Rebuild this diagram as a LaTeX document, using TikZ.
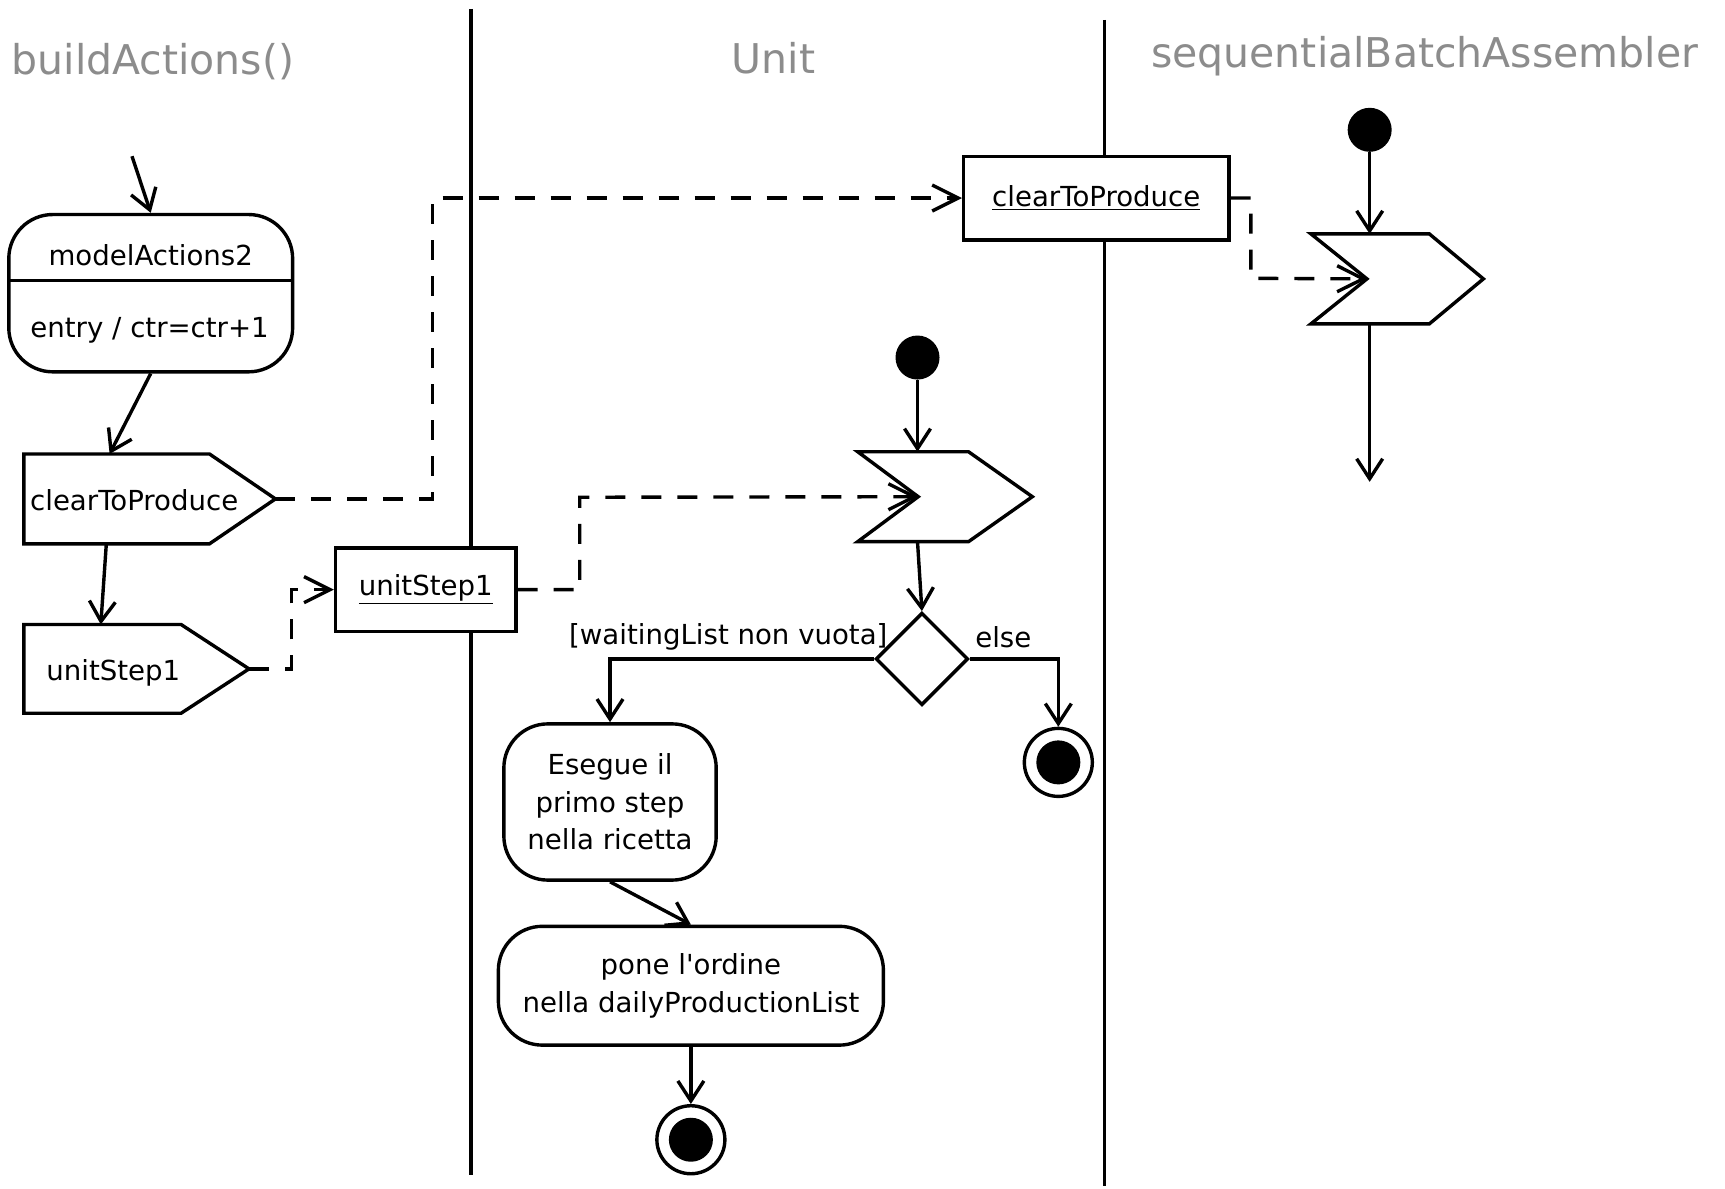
\documentclass[tikz,border=0pt]{standalone}
\usepackage{fontspec}
\setmainfont{DejaVu Sans}[Ligatures=TeXOff]
\usetikzlibrary{arrows.meta,shapes.geometric,calc}

\definecolor{titlegray}{HTML}{8C8C8C}

% outline of a send-signal action (pentagon pointing right)
\newcommand\sendoutline[2]{%
  \draw[ln] (#1.north west) -- ([xshift=-#2]#1.north east) -- (#1.east)
    -- ([xshift=-#2]#1.south east) -- (#1.south west) -- cycle;}
% outline of an accept-event action (notched left side, pointed right side)
\newcommand\acceptoutline[3]{%
  \draw[ln, fill=white] (#1.north west) -- ([xshift=-#3]#1.north east) -- (#1.east)
    -- ([xshift=-#3]#1.south east) -- (#1.south west) -- ([xshift=#2]#1.west) -- cycle;}

\tikzset{
  ln/.style={line width=1.7pt, line join=miter},
  arr/.style={ln, -{Straight Barb[length=10pt,width=13pt,line width=1.7pt]}},
  dasharr/.style={ln, dash pattern=on 10pt off 8pt,
    -{Straight Barb[length=13pt,width=13pt,line width=1.7pt]}},
  lane/.style={line width=1.7pt},
  title/.style={font=\fontsize{20.5}{24}\selectfont, text=titlegray, inner sep=0pt},
  txt/.style={font=\fontsize{13.8}{18.7}\selectfont, inner sep=0pt, align=center},
  shp/.style={inner sep=0pt},
  objbox/.style={draw, ln, fill=white, inner sep=0pt, minimum height=41.8pt,
    font=\fontsize{13.8}{18.7}\selectfont},
  actbox/.style={draw, ln, fill=white, rounded corners=22pt, inner sep=0pt,
    align=center, font=\fontsize{13.8}{18.7}\selectfont},
  startdot/.style={circle, fill=black, minimum size=22pt, inner sep=0pt},
  finalnode/.style={circle, draw, ln, fill=white, minimum size=34pt, inner sep=0pt,
    path picture={\fill[black] (path picture bounding box.center) circle (11pt);}},
  decision/.style={diamond, draw, ln, fill=white, minimum width=46.2pt,
    minimum height=46.2pt, inner sep=0pt, aspect=1},
}

\begin{document}
\begin{tikzpicture}[x=0.55pt, y=-0.55pt]
  \fill[white] (0,0) rectangle (1568,1080);
  \useasboundingbox (0,0) rectangle (1568,1080);

  % swimlane separators
  \coordinate (l1a) at (428,8);    \coordinate (l1b) at (428,1068);
  \coordinate (l2a) at (1004,18);  \coordinate (l2b) at (1004,1078);
  \draw[lane] (l1a) -- (l1b);
  \draw[lane] (l2a) -- (l2b);

  % lane titles
  \node[title] (t1) at (139,56) {buildActions()};
  \node[title] (t2) at (703,53) {Unit};
  \node[title] (t3) at (1295,51) {sequentialBatchAssembler};

  % ---- buildActions() lane ----
  \node[actbox, minimum width=141.9pt, minimum height=78.65pt] (ma) at (137,266.5) {};
  \draw[ln] (ma.west |- 0,255) -- (ma.east |- 0,255);
  \node[txt] (maT) at (137,232) {modelActions2};
  \node[txt] (maE) at (136,300) {entry / ctr=ctr+1};

  \node[shp, minimum width=125.4pt, minimum height=44.55pt] (ctp) at (136,453.5) {};
  \sendoutline{ctp}{33pt}
  \node[txt] (ctpT) at (122,455) {clearToProduce};

  \node[shp, minimum width=112.2pt, minimum height=44pt] (us) at (124,608) {};
  \sendoutline{us}{34pt}
  \node[txt] (usT) at (103,612) {unitStep1};

  % ---- object nodes ----
  \node[objbox, minimum width=90.2pt] (obj1) at (387,536) {\underline{unitStep1}};
  \node[objbox, minimum width=132.55pt] (obj2) at (996.5,180) {\underline{clearToProduce}};

  % ---- Unit lane ----
  \node[startdot] (dot1) at (834,325) {};
  \node[shp, minimum width=86.9pt, minimum height=44.55pt] (acc1) at (859,451.5) {};
  \acceptoutline{acc1}{30.25pt}{31.9pt}
  \coordinate (acc1n) at ([xshift=30.25pt]acc1.west);
  \node[decision] (dec) at (838,599) {};
  \node[txt] (gYes) at (662,579) {[waitingList non vuota]};
  \node[txt] (gNo) at (912,579) {else};
  \node[finalnode] (fin1) at (962,693) {};
  \node[actbox, minimum width=106.15pt, minimum height=78.1pt] (es) at (554.5,729)
    {Esegue il\\primo step\\nella ricetta};
  \node[actbox, minimum width=192.5pt, minimum height=59.4pt] (pone) at (628,896)
    {pone l'ordine\\nella dailyProductionList};
  \node[finalnode] (fin2) at (628,1036) {};

  % ---- sequentialBatchAssembler lane ----
  \node[startdot] (dot2) at (1245,118) {};
  \node[shp, minimum width=85.8pt, minimum height=44.55pt] (acc2) at (1270,253.5) {};
  \acceptoutline{acc2}{28pt}{27pt}
  \coordinate (acc2n) at ([xshift=28pt]acc2.west);
  \coordinate (endB) at (1245,438);

  % ---- control flows ----
  \coordinate (st0) at (120,142);
  \draw[arr] (st0) -- (ma.north);
  \draw[arr] (ma.south) -- ([xshift=42.9pt]ctp.north west);
  \draw[arr] ([xshift=41.25pt]ctp.south west) -- ([xshift=38.5pt]us.north west);
  \draw[arr] (dot1) -- (dot1 |- acc1.north);
  \draw[arr] (dot1 |- acc1.south) -- (dec.north);
  \draw[arr] (dec.west) -| (es.north);
  \draw[arr] (dec.east) -| (fin1.north);
  \draw[arr] (es.south) -- (pone.north);
  \draw[arr] (pone.south) -- (fin2.north);
  \draw[arr] (dot2) -- (dot2 |- acc2.north);
  \draw[arr] (dot2 |- acc2.south) -- (endB);

  % ---- object flows ----
  \coordinate (b1) at (393,180);
  \coordinate (b2) at (265,536);
  \coordinate (b3) at (527,452);
  \coordinate (b4) at (1137,253);
  \draw[dasharr] (ctp.east) -| (b1) -- (obj2.west);
  \draw[dasharr] (us.east) -| (b2) -- (obj1.west);
  \draw[dasharr] (obj1.east) -| (b3) -- (acc1n);
  \draw[dasharr] (obj2.east) -| (b4) -- (acc2n);
\end{tikzpicture}
\end{document}
